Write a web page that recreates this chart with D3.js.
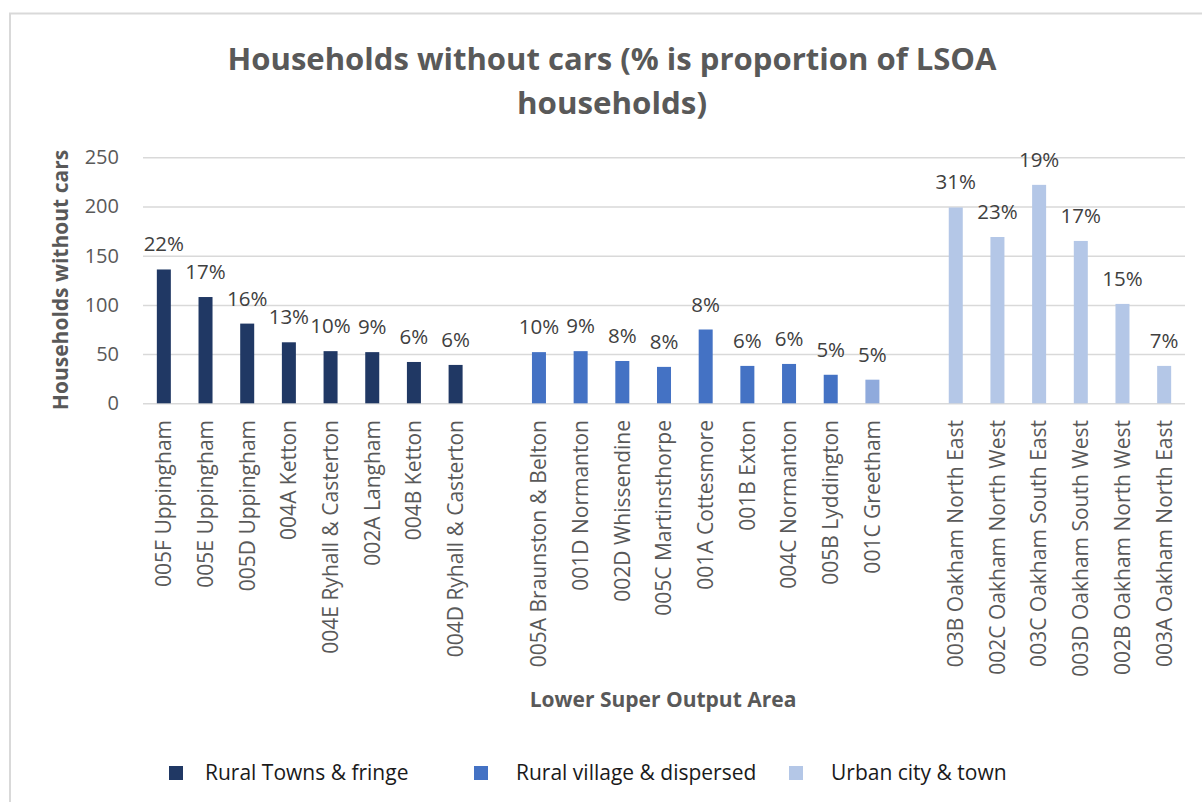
<html>
<script src="https://d3js.org/d3.v7.js"></script>
<body style="margin:0;background:#fff;">
<style>
    text { font-family: "Open Sans", "Noto Sans", sans-serif; }
</style>
<svg id="chart" width="1202" height="802"></svg>
<script>
    // LSOA names, in the order they are drawn
    let areas = ["005F Uppingham", "005E Uppingham", "005D Uppingham", "004A Ketton",
        "004E Ryhall & Casterton", "002A Langham", "004B Ketton", "004D Ryhall & Casterton",
        "005A Braunston & Belton", "001D Normanton", "002D Whissendine", "005C Martinsthorpe",
        "001A Cottesmore", "001B Exton", "004C Normanton", "005B Lyddington", "001C Greetham",
        "003B Oakham North East", "002C Oakham North West", "003C Oakham South East",
        "003D Oakham South West", "002B Oakham North West", "003A Oakham North East"];
    let households = [136, 108, 81, 62, 53, 52, 42, 39,
        52, 53, 43, 37, 75, 38, 40, 29, 24,
        199, 169, 222, 165, 101, 38];
    let pctLabels = ["22%", "17%", "16%", "13%", "10%", "9%", "6%", "6%",
        "10%", "9%", "8%", "8%", "8%", "6%", "6%", "5%", "5%",
        "31%", "23%", "19%", "17%", "15%", "7%"];
    // 0 towns, 1 villages, 2 urban, 3 = Greetham (own lighter fill)
    let group = [0, 0, 0, 0, 0, 0, 0, 0,
        1, 1, 1, 1, 1, 1, 1, 1, 3,
        2, 2, 2, 2, 2, 2];
    let seriesNames = ["Rural Towns & fringe", "Rural village & dispersed", "Urban city & town"];
    let fills = ["#203864", "#4472C4", "#B4C7E7", "#8FAADC"];
    let yTicks = [0, 50, 100, 150, 200, 250];

    let svg = d3.select("#chart");

    // chart frame
    svg.append("rect")
        .attr("x", 10).attr("y", 13.5)
        .attr("width", 1300).attr("height", 900)
        .attr("fill", "none").attr("stroke", "#d9d9d9").attr("stroke-width", 2);

    // empty slots between the three groups
    let slots = [];
    areas.forEach((a, i) => {
        if (i > 0 && group[i] != group[i - 1] && !(group[i] == 3 || group[i - 1] == 3 && group[i] != 2)) slots.push("gap" + i);
        slots.push(a + "|" + i);
    });

    let x = d3.scaleBand().domain(slots).range([143, 1185]).paddingInner(0.664).paddingOuter(0.332);
    let y = d3.scaleLinear().domain([0, 250]).range([403.3, 157.3]);

    // gridlines + y labels
    let yAxis = svg.append("g")
        .attr("transform", "translate(143,0)")
        .call(d3.axisLeft(y).tickValues(yTicks).tickSize(-1042).tickPadding(24));
    yAxis.select(".domain").remove();
    yAxis.selectAll("line").attr("stroke", "#d9d9d9").attr("stroke-width", 1.5);
    yAxis.selectAll("text").attr("fill", "#595959").style("font-size", "20px");

    let bars = svg.append("g");
    areas.forEach((a, i) => {
        let key = a + "|" + i;
        bars.append("rect")
            .attr("x", x(key))
            .attr("y", y(households[i]))
            .attr("width", x.bandwidth())
            .attr("height", y(0) - y(households[i]))
            .attr("fill", fills[group[i]]);
        bars.append("text")
            .attr("x", x(key) + x.bandwidth() / 2)
            .attr("y", y(households[i]) - 18)
            .attr("text-anchor", "middle")
            .attr("fill", "#404040")
            .style("font-size", "20.5px")
            .text(pctLabels[i]);
        // category label, rotated
        svg.append("text")
            .attr("transform", `translate(${x(key) + x.bandwidth() / 2},420) rotate(-90)`)
            .attr("dy", "0.35em")
            .attr("text-anchor", "end")
            .attr("fill", "#595959")
            .style("font-size", "21px")
            .text(a);
    });

    // title
    let title = svg.append("text")
        .attr("text-anchor", "middle")
        .attr("fill", "#595959")
        .style("font-size", "30px")
        .style("font-weight", "bold");
    title.append("tspan").attr("x", 612).attr("y", 70)
        .attr("textLength", 769).attr("lengthAdjust", "spacingAndGlyphs")
        .text("Households without cars (% is proportion of LSOA");
    title.append("tspan").attr("x", 612).attr("y", 114)
        .attr("textLength", 190).attr("lengthAdjust", "spacingAndGlyphs")
        .text("households)");

    // axis titles
    svg.append("text")
        .attr("transform", "translate(68,280) rotate(-90)")
        .attr("text-anchor", "middle")
        .attr("fill", "#595959")
        .style("font-size", "21px").style("font-weight", "bold")
        .text("Households without cars");
    svg.append("text")
        .attr("x", 663).attr("y", 707)
        .attr("text-anchor", "middle")
        .attr("fill", "#595959")
        .style("font-size", "21px").style("font-weight", "bold")
        .text("Lower Super Output Area");

    // legend
    let legendX = [169, 474, 789];
    let textGap = [36, 42, 42];
    let legend = svg.append("g");
    seriesNames.forEach((s, i) => {
        legend.append("rect")
            .attr("x", legendX[i]).attr("y", 766)
            .attr("width", 14).attr("height", 14)
            .attr("fill", fills[i]);
        legend.append("text")
            .attr("x", legendX[i] + textGap[i]).attr("y", 780)
            .attr("fill", "#1a1a1a")
            .style("font-size", "21px")
            .text(s);
    });
</script>
</body>
</html>
